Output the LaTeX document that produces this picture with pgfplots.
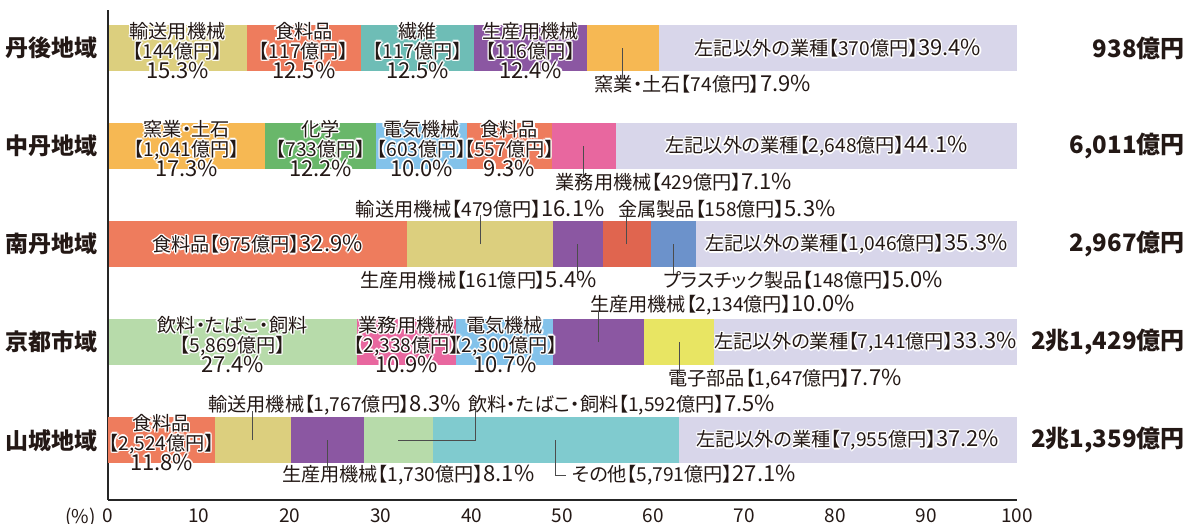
\documentclass[border=0pt]{standalone}
\usepackage{fontspec}
\usepackage{pgfplots}
\pgfplotsset{compat=1.18}
\setmainfont{Noto Sans CJK JP}[RawFeature=+palt]
\newfontfamily\jp{Noto Sans CJK JP}[RawFeature=+palt]

\definecolor{khaki}{HTML}{DCCF7E}
\definecolor{salmon}{HTML}{EE7C5D}
\definecolor{teala}{HTML}{6EBDB6}
\definecolor{purp}{HTML}{8B57A2}
\definecolor{orng}{HTML}{F6B853}
\definecolor{lav}{HTML}{D8D6EA}
\definecolor{grn}{HTML}{69B76A}
\definecolor{lblue}{HTML}{83C2EA}
\definecolor{pink}{HTML}{E8679F}
\definecolor{redd}{HTML}{E0654F}
\definecolor{blu}{HTML}{6C92CB}
\definecolor{lgrn}{HTML}{B7DBAA}
\definecolor{yel}{HTML}{E8E563}
\definecolor{tealb}{HTML}{80CBCF}
\definecolor{txt}{HTML}{231815}

\newcommand\ml{\fontsize{9.6}{10}\selectfont}
\newcommand\sL{\fontsize{9.6}{10}\selectfont}
\newcommand\tot{\fontsize{12}{13}\selectfont\bfseries}
\newcommand\pc[1]{{\fontsize{11}{11}\selectfont#1}}

\newbox\hbx
\newcommand\mkbox[1]{\setbox\hbx=\hbox{\vbox{\baselineskip=10pt\lineskiplimit=-\maxdimen
  \let\\\cr\halign{\hfil##\hfil\cr#1\crcr}}}}
\newcommand\halo[1]{\mkbox{#1}%
  \rlap{\color{white}\kern.75pt\copy\hbx}%
  \rlap{\color{white}\kern-.75pt\copy\hbx}%
  \rlap{\color{white}\raise.75pt\copy\hbx}%
  \rlap{\color{white}\lower.75pt\copy\hbx}%
  \rlap{\color{white}\kern.55pt\raise.55pt\copy\hbx}%
  \rlap{\color{white}\kern-.55pt\raise.55pt\copy\hbx}%
  \rlap{\color{white}\kern.55pt\lower.55pt\copy\hbx}%
  \rlap{\color{white}\kern-.55pt\lower.55pt\copy\hbx}%
  \box\hbx}
\newcommand\plain[1]{\mkbox{#1}\box\hbx}
% label inside a bar (white halo): #1 extra options, #2 size, #3 coordinate, #4 text
\newcommand\lbl[4][]{%
  \node[inner sep=0pt,text=txt,font={\jp#2},#1] at (axis cs:#3) {\halo{#4}};}
% three-line label inside a bar
\newcommand\mlbl[2]{%
  \node[inner sep=0pt,text=txt,font={\jp\ml},yshift=-1pt] at (axis cs:#1) {\halo{#2}};}
% label outside the bars
\newcommand\olbl[4][]{%
  \node[inner sep=0pt,text=txt,font={\jp#2},#1] at (axis cs:#3) {\plain{#4}};}

\tikzset{leader/.style={draw=black!70, line width=0.5pt}}
\pgfplotsset{
  rowbase/.style={at={(0,0)}, anchor=south west, scale only axis,
    width=454.5pt, height=245pt, xmin=0, xmax=100, ymin=-0.61, ymax=4.39,
    xbar stacked, bar width=23pt, clip=false},
  rowax/.style={rowbase, hide axis},
}

\begin{document}
\begin{tikzpicture}
\path[use as bounding box] (-54pt,-12pt) rectangle (543pt,250pt);

% ---------- 丹後地域
\begin{axis}[rowax]
\addplot[fill=khaki,draw=none] coordinates {(15.3,4)};
\addplot[fill=salmon,draw=none] coordinates {(12.5,4)};
\addplot[fill=teala,draw=none] coordinates {(12.5,4)};
\addplot[fill=purp,draw=none] coordinates {(12.4,4)};
\addplot[fill=orng,draw=none] coordinates {(7.9,4)};
\addplot[fill=lav,draw=none] coordinates {(39.4,4)};
\end{axis}

% ---------- 中丹地域
\begin{axis}[rowax]
\addplot[fill=orng,draw=none] coordinates {(17.3,3)};
\addplot[fill=grn,draw=none] coordinates {(12.2,3)};
\addplot[fill=lblue,draw=none] coordinates {(10.0,3)};
\addplot[fill=salmon,draw=none] coordinates {(9.3,3)};
\addplot[fill=pink,draw=none] coordinates {(7.1,3)};
\addplot[fill=lav,draw=none] coordinates {(44.1,3)};
\end{axis}

% ---------- 南丹地域
\begin{axis}[rowax]
\addplot[fill=salmon,draw=none] coordinates {(32.9,2)};
\addplot[fill=khaki,draw=none] coordinates {(16.1,2)};
\addplot[fill=purp,draw=none] coordinates {(5.4,2)};
\addplot[fill=redd,draw=none] coordinates {(5.3,2)};
\addplot[fill=blu,draw=none] coordinates {(5.0,2)};
\addplot[fill=lav,draw=none] coordinates {(35.3,2)};
\end{axis}

% ---------- 京都市域
\begin{axis}[rowax]
\addplot[fill=lgrn,draw=none] coordinates {(27.4,1)};
\addplot[fill=pink,draw=none] coordinates {(10.9,1)};
\addplot[fill=lblue,draw=none] coordinates {(10.7,1)};
\addplot[fill=purp,draw=none] coordinates {(10.0,1)};
\addplot[fill=yel,draw=none] coordinates {(7.7,1)};
\addplot[fill=lav,draw=none] coordinates {(33.3,1)};
\end{axis}

% ---------- 山城地域 (main axis with axis lines and ticks)
\begin{axis}[rowbase,
  axis x line*=bottom, axis y line*=left,
  axis line style={-, line width=0.75pt, draw=black!85},
  xtick={0,10,...,100}, ytick={0,1,2,3,4},
  yticklabels={山城地域,京都市域,南丹地域,中丹地域,丹後地域},
  major tick length=0pt,
  /pgf/number format/assume math mode=true,
  xticklabel style={font=\fontsize{9.5}{10}\selectfont, text=txt, inner sep=0pt, anchor=north, yshift=-4pt},
  yticklabel style={font=\fontsize{11.5}{12}\selectfont\bfseries, text=txt, inner sep=0pt, anchor=east, xshift=-5pt},
]
\addplot[fill=salmon,draw=none] coordinates {(11.8,0)};
\addplot[fill=khaki,draw=none] coordinates {(8.3,0)};
\addplot[fill=purp,draw=none] coordinates {(8.1,0)};
\addplot[fill=lgrn,draw=none] coordinates {(7.5,0)};
\addplot[fill=tealb,draw=none] coordinates {(27.1,0)};
\addplot[fill=lav,draw=none] coordinates {(37.2,0)};
\node[anchor=north east,inner sep=0pt,text=txt,font=\fontsize{9.5}{10}\selectfont] at ([xshift=-6pt,yshift=-4pt]axis cs:0,-0.61) {(\%)};
\end{axis}

% ---------- labels on top of all bars
\begin{axis}[rowax]
% 丹後地域
\mlbl{7.65,4}{輸送用機械\\【144億円】\\\pc{15.3\%}}
\mlbl{21.55,4}{食料品\\【117億円】\\\pc{12.5\%}}
\mlbl{34.05,4}{繊維\\【117億円】\\\pc{12.5\%}}
\mlbl{46.5,4}{生産用機械\\【116億円】\\\pc{12.4\%}}
\draw[leader] (axis cs:56.65,4) -- (axis cs:56.65,3.70);
\olbl[anchor=west]{\sL}{53.5,3.63}{窯業・土石【74億円】\pc{7.9\%}}
\lbl{\sL}{80.3,4}{左記以外の業種【370億円】\pc{39.4\%}}
\node[anchor=east,inner sep=0pt,text=txt,font=\tot] at (axis cs:118.5,4) {938億円};
% 中丹地域
\mlbl{8.65,3}{窯業・土石\\【1,041億円】\\\pc{17.3\%}}
\mlbl{23.4,3}{化学\\【733億円】\\\pc{12.2\%}}
\mlbl{34.5,3}{電気機械\\【603億円】\\\pc{10.0\%}}
\mlbl{44.15,3}{食料品\\【557億円】\\\pc{9.3\%}}
\draw[leader] (axis cs:52.35,3) -- (axis cs:52.35,2.70);
\olbl[anchor=west]{\sL}{49.2,2.63}{業務用機械【429億円】\pc{7.1\%}}
\lbl{\sL}{77.95,3}{左記以外の業種【2,648億円】\pc{44.1\%}}
\node[anchor=east,inner sep=0pt,text=txt,font=\tot] at (axis cs:118.5,3) {6,011億円};
% 南丹地域
\lbl{\sL}{16.45,2}{食料品【975億円】\pc{32.9\%}}
\draw[leader] (axis cs:40.95,2) -- (axis cs:40.95,2.30);
\olbl{\sL}{40.95,2.36}{輸送用機械【479億円】\pc{16.1\%}}
\draw[leader] (axis cs:57.05,2) -- (axis cs:57.05,2.30);
\olbl[anchor=west]{\sL}{56.1,2.36}{金属製品【158億円】\pc{5.3\%}}
\draw[leader] (axis cs:51.7,2) -- (axis cs:51.7,1.70);
\olbl[anchor=east]{\sL}{53.8,1.63}{生産用機械【161億円】\pc{5.4\%}}
\draw[leader] (axis cs:62.2,2) -- (axis cs:62.2,1.70);
\olbl[anchor=west]{\sL}{61.05,1.63}{プラスチック製品【148億円】\pc{5.0\%}}
\lbl{\sL}{82.35,2}{左記以外の業種【1,046億円】\pc{35.3\%}}
\node[anchor=east,inner sep=0pt,text=txt,font=\tot] at (axis cs:118.5,2) {2,967億円};
% 京都市域
\mlbl{13.7,1}{飲料・たばこ・飼料\\【5,869億円】\\\pc{27.4\%}}
\mlbl{32.85,1}{業務用機械\\【2,338億円】\\\pc{10.9\%}}
\mlbl{43.65,1}{電気機械\\【2,300億円】\\\pc{10.7\%}}
\draw[leader] (axis cs:54.0,1) -- (axis cs:54.0,1.32);
\olbl[anchor=west]{\sL}{53.0,1.38}{生産用機械【2,134億円】\pc{10.0\%}}
\draw[leader] (axis cs:62.85,1) -- (axis cs:62.85,0.68);
\olbl[anchor=west]{\sL}{61.6,0.62}{電子部品【1,647億円】\pc{7.7\%}}
\lbl{\sL}{83.35,1}{左記以外の業種【7,141億円】\pc{33.3\%}}
\node[anchor=east,inner sep=0pt,text=txt,font=\tot] at (axis cs:118.5,1) {2兆1,429億円};
% 山城地域
\mlbl{5.9,0}{食料品\\【2,524億円】\\\pc{11.8\%}}
\draw[leader] (axis cs:15.95,0) -- (axis cs:15.95,0.30);
\olbl[anchor=west]{\sL}{11.0,0.36}{輸送用機械【1,767億円】\pc{8.3\%}}
\draw[leader] (axis cs:31.95,0) -- (axis cs:40.4,0) -- (axis cs:40.4,0.30);
\olbl[anchor=west]{\sL}{39.6,0.36}{飲料・たばこ・飼料【1,592億円】\pc{7.5\%}}
\draw[leader] (axis cs:24.15,0) -- (axis cs:24.15,-0.30);
\olbl[anchor=west]{\sL}{19.1,-0.36}{生産用機械【1,730億円】\pc{8.1\%}}
\draw[leader] (axis cs:49.25,0) -- (axis cs:49.25,-0.36) -- (axis cs:50.4,-0.36);
\olbl[anchor=west]{\sL}{51.0,-0.36}{その他【5,791億円】\pc{27.1\%}}
\lbl{\sL}{81.4,0}{左記以外の業種【7,955億円】\pc{37.2\%}}
\node[anchor=east,inner sep=0pt,text=txt,font=\tot] at (axis cs:118.5,0) {2兆1,359億円};
\end{axis}
\end{tikzpicture}
\end{document}
